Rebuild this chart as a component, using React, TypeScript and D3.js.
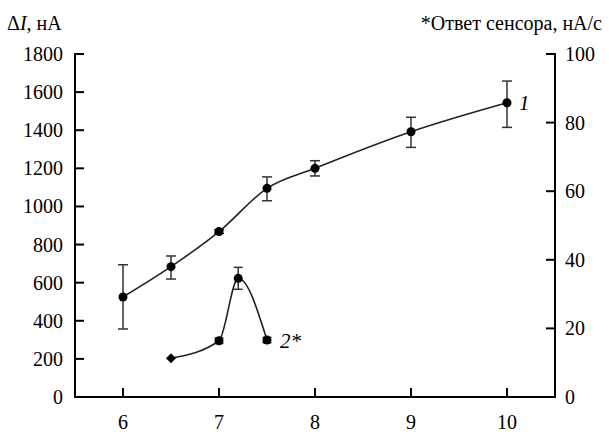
import React, { useEffect, useRef } from "react";
import * as d3 from "d3";

// Curve 1: ΔI (nA) vs x, with error bounds
const xs1 = [6, 6.5, 7, 7.5, 8, 9, 10];
const dI = [525, 684, 868, 1095, 1200, 1392, 1544];
const dILow = [357, 619, 858, 1030, 1160, 1310, 1415];
const dIHigh = [694, 740, 878, 1155, 1240, 1468, 1658];

// Curve 2*: sensor response (nA/s), right axis
const xs2 = [6.5, 7, 7.2, 7.5];
const resp = [11.3, 16.4, 34.6, 16.6];
const respLow = [11.3, 15.6, 31.4, 15.8];
const respHigh = [11.3, 17.2, 37.8, 17.4];

const xTicks = [6, 7, 8, 9, 10];
const yLeftTicks = [0, 200, 400, 600, 800, 1000, 1200, 1400, 1600, 1800];
const yRightTicks = [0, 20, 40, 60, 80, 100];

const W = 609;
const H = 432;
const L = 75;
const R = 555;
const T = 54;
const B = 397;
const TICK = 9;
const FAMILY = "Liberation Serif";

export default function App() {
  const ref = useRef<SVGSVGElement | null>(null);

  useEffect(() => {
    const svg = d3.select(ref.current);
    svg.selectAll("*").remove();

    const x = d3.scaleLinear().domain([5.5, 10.5]).range([L, R]);
    const yL = d3.scaleLinear().domain([0, 1800]).range([B, T]);
    const yR = d3.scaleLinear().domain([0, 100]).range([B, T]);

    const addText = (
      tx: number,
      ty: number,
      s: string,
      size: number,
      anchor = "start",
      italic = false,
      dy = "0"
    ) =>
      svg
        .append("text")
        .attr("x", tx)
        .attr("y", ty)
        .attr("dy", dy)
        .attr("text-anchor", anchor)
        .attr("font-family", FAMILY)
        .attr("font-size", size)
        .attr("font-style", italic ? "italic" : "normal")
        .attr("fill", "#000")
        .text(s);

    // axis titles
    const t1 = svg
      .append("text")
      .attr("x", 7)
      .attr("y", 30)
      .attr("font-family", FAMILY)
      .attr("font-size", 20)
      .attr("fill", "#000");
    t1.append("tspan").text("Δ");
    t1.append("tspan").attr("font-style", "italic").text("I");
    t1.append("tspan").text(", нА");
    addText(602, 30, "*Ответ сенсора, нА/с", 20, "end");

    // axes
    const ax = svg.append("g").attr("stroke", "#000").attr("stroke-width", 2).attr("fill", "none");
    ax.append("line").attr("x1", L).attr("x2", L).attr("y1", T - 1).attr("y2", B + 1);
    ax.append("line").attr("x1", R).attr("x2", R).attr("y1", T - 1).attr("y2", B + 1);
    ax.append("line").attr("x1", L - 1).attr("x2", R + 1).attr("y1", B).attr("y2", B);
    yLeftTicks.forEach((t) =>
      ax.append("line").attr("x1", L).attr("x2", L + TICK).attr("y1", yL(t)).attr("y2", yL(t))
    );
    yRightTicks.forEach((t) =>
      ax.append("line").attr("x1", R - TICK).attr("x2", R).attr("y1", yR(t)).attr("y2", yR(t))
    );
    xTicks.forEach((t) =>
      ax.append("line").attr("x1", x(t)).attr("x2", x(t)).attr("y1", B).attr("y2", B - TICK)
    );

    // tick labels
    yLeftTicks.forEach((t) => addText(L - 12, yL(t), String(t), 20, "end", false, "0.35em"));
    yRightTicks.forEach((t) => addText(R + 10, yR(t), String(t), 20, "start", false, "0.35em"));
    xTicks.forEach((t) => addText(x(t), 429, String(t), 20, "middle"));

    const errBar = (cx: number, y0: number, y1: number, c: number) => {
      const g = svg.append("g").attr("stroke", "#333").attr("stroke-width", 1.5);
      g.append("line").attr("x1", cx).attr("x2", cx).attr("y1", y0).attr("y2", y1);
      g.append("line").attr("x1", cx - c).attr("x2", cx + c).attr("y1", y0).attr("y2", y0);
      g.append("line").attr("x1", cx - c).attr("x2", cx + c).attr("y1", y1).attr("y2", y1);
    };

    // curve 1
    const line1 = d3
      .line<number>()
      .x((_, i) => x(xs1[i]))
      .y((d) => yL(d))
      .curve(d3.curveMonotoneX);
    svg
      .append("path")
      .attr("d", line1(dI) ?? "")
      .attr("fill", "none")
      .attr("stroke", "#222")
      .attr("stroke-width", 1.6);
    xs1.forEach((v, i) => errBar(x(v), yL(dIHigh[i]), yL(dILow[i]), 5));
    xs1.forEach((v, i) =>
      svg.append("circle").attr("cx", x(v)).attr("cy", yL(dI[i])).attr("r", 4.5).attr("fill", "#000")
    );

    // curve 2*
    const line2 = d3
      .line<number>()
      .x((_, i) => x(xs2[i]))
      .y((d) => yR(d))
      .curve(d3.curveMonotoneX);
    svg
      .append("path")
      .attr("d", line2(resp) ?? "")
      .attr("fill", "none")
      .attr("stroke", "#222")
      .attr("stroke-width", 1.6);
    xs2.forEach((v, i) => {
      if (i > 0) errBar(x(v), yR(respHigh[i]), yR(respLow[i]), 4.5);
    });
    xs2.forEach((v, i) => {
      if (i === 0) {
        svg
          .append("path")
          .attr("d", d3.symbol(d3.symbolDiamond2, 64)() ?? "")
          .attr("transform", `translate(${x(v)},${yR(resp[i])})`)
          .attr("fill", "#000");
      } else {
        svg.append("circle").attr("cx", x(v)).attr("cy", yR(resp[i])).attr("r", 4.5).attr("fill", "#000");
      }
    });

    // series labels
    addText(519, 110, "1", 21, "start", true);
    addText(280, 348, "2*", 21, "start", true);
  }, []);

  return (
    <svg
      ref={ref}
      width={W}
      height={H}
      style={{ position: "absolute", left: 0, top: 0, background: "#fff" }}
    />
  );
}
